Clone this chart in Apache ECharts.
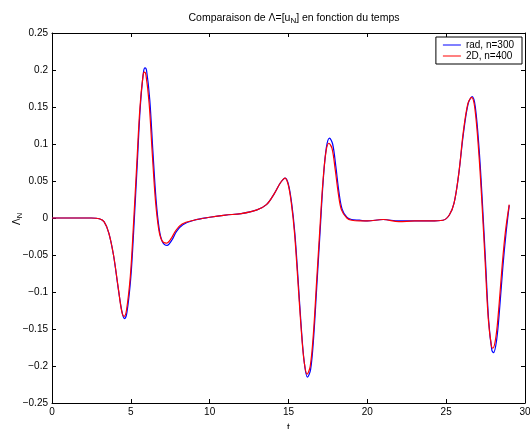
<!DOCTYPE html>
<html><head><meta charset="utf-8">
<script src="https://cdn.jsdelivr.net/npm/echarts@6/dist/echarts.min.js"></script>
<style>html,body{margin:0;padding:0;background:#fff}#c{width:530px;height:429px}</style>
</head><body><div id="c"></div>
<script>
// Blue series: rad, n=300
var tRad = [0,2.5,3.0,3.3,3.6,3.9,4.2,4.45,4.6,4.75,5.0,5.2,5.4,5.6,5.8,5.9,6.0,6.2,6.4,6.6,6.8,7.0,7.3,7.6,7.9,8.3,9.0,10,11,12,13,13.6,14.1,14.5,14.8,15.0,15.2,15.4,15.6,15.8,16.0,16.2,16.4,16.6,16.8,17.0,17.2,17.4,17.6,17.8,18.0,18.2,18.4,18.7,19,19.5,20,21,22,23,24,24.8,25.2,25.5,25.8,26.1,26.4,26.65,26.85,27.1,27.3,27.5,27.7,27.9,28.0,28.2,28.4,28.6,28.8,29.0];
var vRad = [0,0,-0.001,-0.005,-0.02,-0.05,-0.095,-0.128,-0.136,-0.128,-0.08,-0.01,0.07,0.15,0.197,0.203,0.199,0.16,0.09,0.025,-0.015,-0.032,-0.037,-0.03,-0.018,-0.009,-0.003,0.001,0.004,0.006,0.011,0.018,0.033,0.048,0.054,0.045,0.02,-0.02,-0.08,-0.145,-0.195,-0.215,-0.205,-0.16,-0.09,-0.02,0.05,0.095,0.108,0.1,0.07,0.035,0.012,0.001,-0.002,-0.003,-0.004,-0.002,-0.004,-0.004,-0.004,-0.003,0.004,0.02,0.06,0.115,0.155,0.164,0.15,0.09,0.02,-0.06,-0.14,-0.179,-0.182,-0.165,-0.12,-0.065,-0.02,0.017];
// Red series: 2D, n=400
var t2D = [0,2.5,3.0,3.3,3.6,3.9,4.2,4.42,4.57,4.72,4.97,5.17,5.37,5.57,5.77,5.86,5.96,6.16,6.36,6.56,6.76,6.96,7.25,7.55,7.85,8.25,9.0,10,11,12,13,13.6,14.1,14.5,14.78,14.98,15.18,15.38,15.58,15.78,15.98,16.18,16.38,16.58,16.78,16.98,17.18,17.38,17.56,17.76,17.96,18.16,18.36,18.7,19,19.5,20,21,22,23,24,24.8,25.2,25.5,25.8,26.08,26.38,26.62,26.82,27.07,27.27,27.47,27.67,27.87,27.96,28.16,28.36,28.56,28.76,29.0];
var v2D = [0,0,-0.001,-0.005,-0.02,-0.05,-0.094,-0.126,-0.133,-0.125,-0.078,-0.008,0.07,0.147,0.192,0.197,0.193,0.155,0.087,0.024,-0.014,-0.03,-0.034,-0.028,-0.017,-0.008,-0.003,0.001,0.004,0.006,0.011,0.018,0.033,0.048,0.054,0.045,0.02,-0.02,-0.08,-0.143,-0.192,-0.211,-0.2,-0.156,-0.087,-0.018,0.048,0.09,0.101,0.094,0.066,0.033,0.011,0.0,-0.003,-0.004,-0.004,-0.002,-0.005,-0.004,-0.004,-0.003,0.004,0.02,0.06,0.115,0.155,0.163,0.148,0.088,0.02,-0.058,-0.136,-0.173,-0.176,-0.16,-0.116,-0.062,-0.018,0.018];
var seriesNames = ['rad, n=300', '2D, n=400'];
var seriesColors = ['#0000ff', '#ff0000'];

function pairs(t, v) { return t.map(function (x, i) { return [x, v[i]]; }); }
function fmt(v) {
  var s = String(Math.round(v * 1000) / 1000);
  return s.replace('-', '\u2212');
}
var font = 'Liberation Sans, Arial, Helvetica, sans-serif';
var chart = echarts.init(document.getElementById('c'), null, {renderer: 'canvas'});
var axisCommon = {
  axisLine: {show: true, onZero: false, lineStyle: {color: '#000', width: 1}},
  axisTick: {show: true, inside: true, length: 4, lineStyle: {color: '#000'}},
  splitLine: {show: false}
};
chart.setOption({
  animation: false,
  backgroundColor: '#fff',
  title: {
    text: 'Comparaison de \u039B=[u{sub|N}] en fonction du temps',
    left: 289, top: 6, textAlign: 'center',
    textStyle: {fontFamily: font, fontSize: 10.5, fontWeight: 'normal', color: '#000',
      rich: {sub: {fontFamily: font, fontSize: 8, verticalAlign: 'bottom', padding: [6, 0, 0, 0]}}}
  },
  graphic: [{
    type: 'text', x: 17, y: 219, rotation: Math.PI / 2,
    style: {
      text: '\u039B{sub|N}', fill: '#000', font: '10px ' + font,
      align: 'center', verticalAlign: 'middle',
      rich: {sub: {fontFamily: font, fontSize: 7.5, fill: '#000', verticalAlign: 'bottom', padding: [5, 0, 0, 0]}}
    }
  }],
  legend: {
    right: 8, top: 37, orient: 'vertical', itemWidth: 18, itemHeight: 1, itemGap: 1,
    padding: [3, 8, 3, 7],
    borderColor: '#000', borderWidth: 1, backgroundColor: '#fff',
    textStyle: {fontFamily: font, fontSize: 10, color: '#000'},
    icon: 'rect',
    data: seriesNames
  },
  grid: {left: 52, right: 5, top: 33, bottom: 26, outerBoundsMode: 'none', containLabel: false},
  xAxis: [
    Object.assign({type: 'value', min: 0, max: 30, interval: 5, position: 'bottom',
      name: 't', nameLocation: 'middle', nameGap: 20,
      nameTextStyle: {fontFamily: font, fontSize: 10, color: '#000'},
      axisLabel: {fontFamily: font, fontSize: 10, color: '#000', margin: 4, formatter: fmt}}, axisCommon),
    Object.assign({type: 'value', min: 0, max: 30, interval: 5, position: 'top',
      axisLabel: {show: false}}, axisCommon)
  ],
  yAxis: [
    Object.assign({type: 'value', min: -0.25, max: 0.25, interval: 0.05, position: 'left',
      axisLabel: {fontFamily: font, fontSize: 10, color: '#000', margin: 4, formatter: fmt}}, axisCommon),
    Object.assign({type: 'value', min: -0.25, max: 0.25, interval: 0.05, position: 'right',
      axisLabel: {show: false}}, axisCommon)
  ],
  series: [
    {name: seriesNames[0], type: 'line', data: pairs(tRad, vRad), smooth: 0.35, showSymbol: false,
      lineStyle: {color: seriesColors[0], width: 1.2}, itemStyle: {color: seriesColors[0]}},
    {name: seriesNames[1], type: 'line', data: pairs(t2D, v2D), smooth: 0.35, showSymbol: false,
      lineStyle: {color: seriesColors[1], width: 1.2}, itemStyle: {color: seriesColors[1]}}
  ]
});
</script></body></html>
